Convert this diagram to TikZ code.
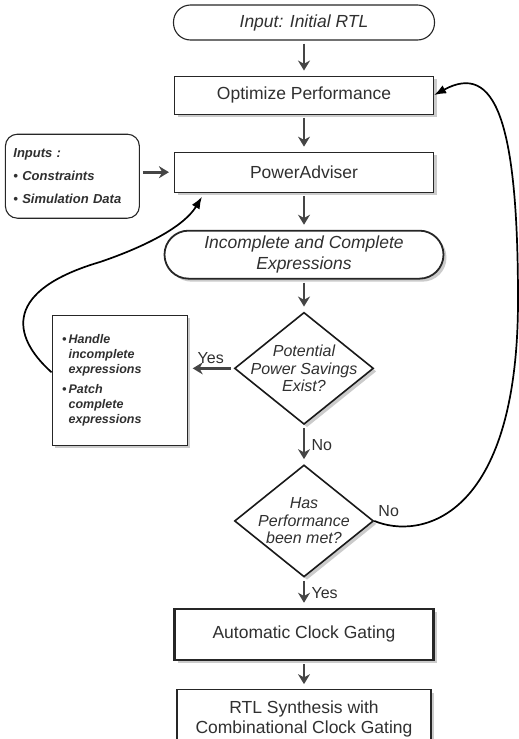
\documentclass[tikz,border=0pt]{standalone}
\usepackage{fontspec}
\setmainfont{Liberation Sans}
\usepackage{xcolor}
\usetikzlibrary{shapes.geometric,arrows.meta,positioning,shadows}

\definecolor{txtgray}{HTML}{303030}
\definecolor{arrgray}{HTML}{454545}

\begin{document}
\begin{tikzpicture}[x=1pt, y=-1pt,
  softshadow/.style={drop shadow={shadow xshift=3pt, shadow yshift=-3pt,
    fill=black!45, opacity=0.45}},
  box/.style={rectangle, draw=black!85, line width=1.1pt, fill=white,
    minimum width=259pt, font=\fontsize{17.5}{20}\selectfont,
    text=txtgray, align=center, softshadow},
  pill/.style={rectangle, rounded corners=17pt, draw=black!85, line width=1.1pt,
    fill=white, minimum width=261pt, font=\fontsize{17.5}{21}\selectfont\itshape,
    text=txtgray, align=center},
  decision/.style={diamond, draw=black!90, line width=1.6pt, fill=white,
    minimum width=139pt, minimum height=112pt, inner sep=0pt, softshadow},
  dtext/.style={font=\fontsize{16}{17.5}\selectfont\itshape, text=txtgray,
    align=center},
  note/.style={rectangle, draw=black!85, line width=1.1pt, fill=white,
    font=\fontsize{12.5}{15}\selectfont\bfseries\itshape, text=txtgray,
    align=left},
  flow/.style={-{Stealth[length=10pt,width=12pt]}, line width=2.6pt,
    draw=arrgray, shorten <=3pt, shorten >=5pt},
  backedge/.style={-{Latex[length=12pt,width=9pt]}, line width=1.7pt},
  lbl/.style={font=\fontsize{16}{18}\selectfont, text=txtgray}
]
\useasboundingbox (0,0) rectangle (519,739);

% main column
\node[pill, minimum height=35pt] (in) at (304,22.5) {Input: Initial RTL};
\node[box, minimum height=38pt, below=35pt of in] (op) {Optimize Performance};
\node[box, minimum height=40pt, below=37pt of op] (pa) {PowerAdviser};
\node[pill, softshadow, line width=1.8pt, minimum width=279pt,
  minimum height=48pt, rounded corners=24pt, below=37pt of pa] (ic)
  {Incomplete and Complete\\Expressions};
\node[decision, below=32pt of ic,
  label={[dtext]center:Potential\\Power Savings\\Exist?}] (d1) {};
\node[decision, below=39pt of d1,
  label={[dtext]center:Has\\Performance\\been met?}] (d2) {};
\node[box, line width=2.4pt, minimum height=51pt, below=30pt of d2] (acg)
  {Automatic Clock Gating};
\node[box, minimum width=254pt, minimum height=58pt, below=28pt of acg] (rtl)
  {RTL Synthesis with\\Combinational Clock Gating};

% side boxes
\node[note, rounded corners=12pt, text width=118pt, inner xsep=8pt,
  minimum height=84pt, font=\fontsize{13}{23}\selectfont\bfseries\itshape,
  left=34pt of pa, yshift=-4pt] (inp)
  {Inputs :\\\textbullet\ Constraints\\\textbullet\ Simulation Data};
\node[note, softshadow, text width=115pt, inner xsep=10pt, minimum height=130pt,
  left=46pt of d1, yshift=-12pt] (lb)
  {\begin{tabular}{@{}l@{\,}l@{}}
   \textbullet & Handle\\
               & incomplete\\
               & expressions\\[5pt]
   \textbullet & Patch\\
               & complete\\
               & expressions
   \end{tabular}};

% straight arrows
\draw[flow] (in) -- (op);
\draw[flow] (op) -- (pa);
\draw[flow] (pa) -- (ic);
\draw[flow] (ic) -- (d1);
\draw[flow] (d1) -- (d2) node[midway, right, xshift=3pt, lbl] {No};
\draw[flow] (d2) -- (acg) node[midway, right, xshift=3pt, lbl] {Yes};
\draw[flow] (acg) -- (rtl);
\draw[flow] (d1.west) -- (d1.west -| lb.east) node[midway, above, lbl] {Yes};
\draw[flow] (pa.west -| inp.east) -- (pa.west);

% feedback curves
\draw[backedge] ([yshift=8pt]lb.west) .. controls (10,335) and (5,290) .. (100,262)
  .. controls (150,245) and (185,225) .. ([xshift=28pt,yshift=-4pt]pa.south west);
\draw[backedge] (d2.east) node[above right, lbl] {No}
  .. controls (420,540) and (518,520) .. (518,300)
  .. controls (518,120) and (495,62) .. (op.east);

\end{tikzpicture}
\end{document}
